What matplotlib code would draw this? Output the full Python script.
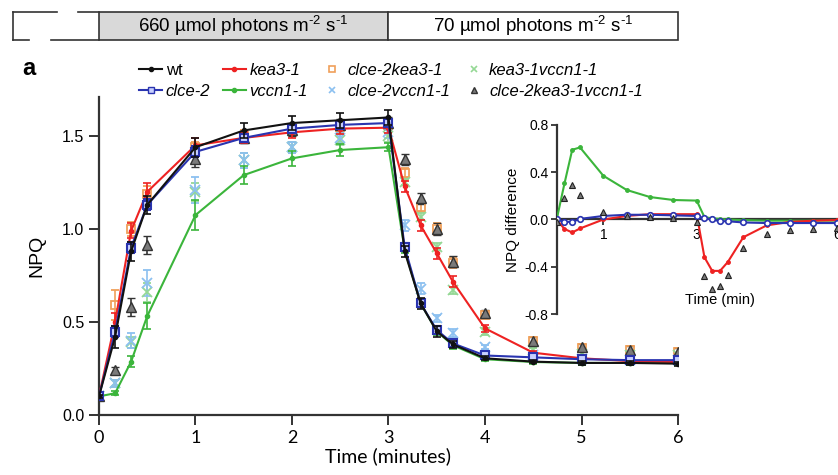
import matplotlib
matplotlib.use('Agg')
import matplotlib.pyplot as plt
from matplotlib.lines import Line2D
from matplotlib.patches import Rectangle
import matplotlib.transforms as mtransforms

plt.rcParams['font.family'] = ['Liberation Sans', 'DejaVu Sans']
plt.rcParams['mathtext.fontset'] = 'custom'
plt.rcParams['mathtext.rm'] = 'Liberation Sans'

# time points (minutes)
time = [0, 0.167, 0.333, 0.5, 1, 1.5, 2, 2.5, 3, 3.167, 3.333, 3.5, 3.667, 4, 4.5, 5, 5.5, 6]

# NPQ, main panel
wt = [0.10, 0.42, 0.88, 1.13, 1.44, 1.53, 1.57, 1.585, 1.60, 0.88, 0.60, 0.45, 0.38, 0.305, 0.287, 0.28, 0.28, 0.276]
wt_err = [0.01, 0.06, 0.05, 0.05, 0.05, 0.04, 0.04, 0.04, 0.04, 0.03, 0.03, 0.03, 0.02, 0.01, 0.01, 0.01, 0.01, 0.01]
kea3 = [0.10, 0.50, 0.99, 1.20, 1.45, 1.49, 1.52, 1.54, 1.545, 1.23, 1.02, 0.87, 0.717, 0.466, 0.335, 0.305, 0.29, 0.285]
kea3_err = [0.01, 0.05, 0.04, 0.05, 0.04, 0.03, 0.03, 0.03, 0.03, 0.03, 0.03, 0.03, 0.03, 0.02, 0.01, 0.01, 0.01, 0.01]
clce2 = [0.10, 0.448, 0.90, 1.13, 1.415, 1.49, 1.54, 1.56, 1.57, 0.905, 0.60, 0.457, 0.385, 0.32, 0.31, 0.30, 0.295, 0.295]
clce2_err = [0.01, 0.03, 0.03, 0.03, 0.03, 0.02, 0.02, 0.02, 0.02, 0.02, 0.02, 0.02, 0.02, 0.01, 0.01, 0.01, 0.01, 0.01]
vccn1 = [0.10, 0.117, 0.287, 0.532, 1.075, 1.29, 1.38, 1.425, 1.44, 0.89, 0.60, 0.45, 0.375, 0.30, 0.285, 0.28, 0.28, 0.28]
vccn1_err = [0.01, 0.01, 0.03, 0.07, 0.08, 0.05, 0.04, 0.03, 0.02, 0.02, 0.02, 0.02, 0.02, 0.01, 0.01, 0.01, 0.01, 0.01]
clce2kea3 = [0.10, 0.59, 1.00, 1.19, 1.44, 1.50, 1.53, 1.55, 1.56, 1.30, 1.12, 1.00, 0.82, 0.54, 0.40, 0.36, 0.35, 0.34]
clce2kea3_err = [0.01, 0.08, 0.04, 0.04, 0.03, 0.03, 0.03, 0.03, 0.03, 0.03, 0.03, 0.03, 0.03, 0.02, 0.02, 0.02, 0.02, 0.02]
kea3vccn1 = [0.10, 0.17, 0.39, 0.66, 1.20, 1.37, 1.44, 1.48, 1.50, 1.255, 1.066, 0.905, 0.67, 0.448, 0.35, 0.33, 0.32, 0.32]
kea3vccn1_err = [0.01, 0.02, 0.03, 0.05, 0.05, 0.04, 0.03, 0.03, 0.03, 0.02, 0.02, 0.02, 0.02, 0.02, 0.01, 0.01, 0.01, 0.01]
clce2vccn1 = [0.10, 0.17, 0.40, 0.71, 1.21, 1.37, 1.44, 1.49, 1.52, 1.02, 0.68, 0.52, 0.44, 0.367, 0.32, 0.30, 0.295, 0.295]
clce2vccn1_err = [0.01, 0.02, 0.04, 0.07, 0.07, 0.04, 0.03, 0.03, 0.03, 0.03, 0.03, 0.02, 0.02, 0.01, 0.01, 0.01, 0.01, 0.01]
triple = [0.10, 0.24, 0.58, 0.915, 1.375, 1.49, 1.53, 1.56, 1.57, 1.375, 1.165, 1.00, 0.825, 0.547, 0.40, 0.364, 0.35, 0.34]
triple_err = [0.01, 0.02, 0.05, 0.05, 0.04, 0.03, 0.03, 0.03, 0.03, 0.03, 0.03, 0.03, 0.03, 0.02, 0.02, 0.02, 0.02, 0.02]

# NPQ difference, inset
d_vccn1 = [0, 0.305, 0.59, 0.61, 0.37, 0.25, 0.19, 0.165, 0.16, 0.02, 0.01, 0.005, 0.0, -0.005, -0.01, -0.01, -0.01, -0.01]
d_kea3 = [0, -0.08, -0.11, -0.076, 0.0, 0.03, 0.045, 0.045, 0.045, -0.32, -0.435, -0.435, -0.36, -0.15, -0.05, -0.02, -0.01, -0.005]
d_clce2 = [0, -0.02, -0.02, 0.005, 0.03, 0.04, 0.04, 0.035, 0.03, 0.01, 0.0, -0.015, -0.015, -0.025, -0.03, -0.03, -0.03, -0.03]
d_triple = [-0.02, 0.18, 0.29, 0.21, 0.06, 0.03, 0.017, 0.01, -0.02, -0.48, -0.585, -0.565, -0.47, -0.24, -0.125, -0.09, -0.08, -0.07]

c_wt = '#111111'
c_red = '#ee2222'
c_blue = '#2a34b0'
c_green = '#3bb53b'
c_orange = '#f0a05a'
c_lgreen = '#95d895'
c_lblue = '#8cc0f0'
c_tri = '#7a7a7a'

fig = plt.figure(figsize=(8.38, 4.75), dpi=100)
ax = fig.add_axes([0.1181, 0.1263, 0.6910, 0.6695])

ek = dict(capsize=3, elinewidth=1.2, capthick=1.2)
# scatter-only genotypes
ax.errorbar(time, clce2kea3, yerr=clce2kea3_err, fmt='s', ms=6, mfc='none', mec=c_orange, mew=1.3,
            ecolor=c_orange, zorder=2, **ek)
ax.errorbar(time, kea3vccn1, yerr=kea3vccn1_err, fmt='x', ms=7, mec=c_lgreen, mew=1.3,
            ecolor=c_lgreen, zorder=2, **ek)
ax.errorbar(time, clce2vccn1, yerr=clce2vccn1_err, fmt='x', ms=7, mec=c_lblue, mew=1.3,
            ecolor=c_lblue, zorder=2, **ek)
ax.errorbar(time, triple, yerr=triple_err, fmt='^', ms=7, mfc=c_tri, mec='#333333', mew=1.0,
            ecolor='#333333', zorder=2, **ek)
# line genotypes
ax.errorbar(time, vccn1, yerr=vccn1_err, fmt='-o', ms=3, color=c_green, lw=1.5, zorder=3, **ek)
ax.errorbar(time, kea3, yerr=kea3_err, fmt='-o', ms=3, color=c_red, lw=1.5, zorder=3, **ek)
ax.errorbar(time, clce2, yerr=clce2_err, fmt='-s', ms=5.5, mfc='#c8d0ff', mec=c_blue, mew=1.5,
            color=c_blue, lw=1.5, zorder=4, **ek)
ax.errorbar(time, wt, yerr=wt_err, fmt='-o', ms=3, color=c_wt, lw=1.5, zorder=5, **ek)

ax.set_xlim(0, 6)
ax.set_ylim(0, 1.71)
ax.set_xticks(range(7))
ax.set_yticks([0, 0.5, 1.0, 1.5])
ax.set_yticklabels(['0.0', '0.5', '1.0', '1.5'])
for s in ['top', 'right']:
    ax.spines[s].set_visible(False)
for s in ['left', 'bottom']:
    ax.spines[s].set_linewidth(1.6)
    ax.spines[s].set_color('#333333')
ax.tick_params(direction='out', length=7, width=1.4, color='#333333', labelsize=11.5)
for lbl in ax.get_xticklabels():
    lbl.set_family(['Lato', 'DejaVu Sans'])
    lbl.set_fontsize(13)
ax.set_xlabel('Time (minutes)', family=['Lato', 'DejaVu Sans'], fontsize=14, labelpad=1)
ax.set_ylabel('NPQ', fontsize=14, labelpad=12)

# light regime bar above the plot
tr = mtransforms.blended_transform_factory(ax.transData, fig.transFigure)
y0, h = 0.916, 0.059
ax.add_patch(Rectangle((0, y0), 3, h, transform=tr, facecolor='#d9d9d9', edgecolor='#333333',
                       lw=1.2, clip_on=False))
ax.add_patch(Rectangle((3, y0), 3, h, transform=tr, facecolor='white', edgecolor='#333333',
                       lw=1.2, clip_on=False))
unit = r' µmol photons m$^{\text{-2}}$ s$^{\text{-1}}$'
ax.text(1.5, y0 + h / 2, '660' + unit, transform=tr, ha='center', va='center', fontsize=13.5)
ax.text(4.5, y0 + h / 2, '70' + unit, transform=tr, ha='center', va='center', fontsize=13.5)
# dark period bracket (broken box)
for xs, ys in [([-0.89, -0.89], [y0, y0 + h]), ([-0.89, -0.43], [y0 + h, y0 + h]),
               ([-0.22, 0], [y0 + h, y0 + h]), ([-0.89, -0.72], [y0, y0]), ([-0.5, 0], [y0, y0])]:
    ax.add_line(Line2D(xs, ys, transform=tr, color='#333333', lw=1.2, clip_on=False))

fig.text(0.026, 0.855, 'a', fontsize=17, fontweight='bold', va='center')

# legend
handles = [
    Line2D([], [], color=c_wt, marker='o', ms=3, lw=1.5),
    Line2D([], [], color=c_blue, marker='s', ms=4.5, mfc='#c8d0ff', mec=c_blue, lw=1.5),
    Line2D([], [], color=c_red, marker='o', ms=3, lw=1.5),
    Line2D([], [], color=c_green, marker='o', ms=3, lw=1.5),
    Line2D([], [], ls='none', marker='s', ms=5, mfc='none', mec=c_orange, mew=1.2),
    Line2D([], [], ls='none', marker='x', ms=5, mec=c_lblue, mew=1.2),
    Line2D([], [], ls='none', marker='x', ms=5, mec=c_lgreen, mew=1.2),
    Line2D([], [], ls='none', marker='^', ms=5, mfc=c_tri, mec='#333333'),
]
labels = ['wt', 'clce-2', 'kea3-1', 'vccn1-1', 'clce-2kea3-1', 'clce-2vccn1-1', 'kea3-1vccn1-1',
          'clce-2kea3-1vccn1-1']
leg = fig.legend(handles, labels, ncol=4, loc='upper left', bbox_to_anchor=(0.166, 0.868),
                 frameon=False, fontsize=12, handlelength=1.4, handletextpad=0.2,
                 columnspacing=0.75, labelspacing=0.35, borderpad=0, borderaxespad=0)
for t in leg.get_texts()[1:]:
    t.set_style('italic')

# inset: NPQ difference
axi = fig.add_axes([0.6643, 0.3389, 0.3341, 0.398])
axi.plot(time, d_vccn1, '-o', color=c_green, ms=2.5, lw=1.5, zorder=3)
axi.plot(time, d_kea3, '-o', color=c_red, ms=2.5, lw=1.5, zorder=3)
axi.plot(time, d_clce2, '-o', color=c_blue, ms=4, mfc='white', mew=1.2, lw=1.5, zorder=4)
axi.plot(time, d_triple, ls='none', marker='^', ms=4.5, mfc=c_tri, mec='#222222', mew=0.8, zorder=5)
axi.set_xlim(0, 6)
axi.set_ylim(-0.8, 0.8)
axi.set_yticks([-0.8, -0.4, 0.0, 0.4, 0.8])
axi.set_yticklabels(['-0.8', '-0.4', '0.0', '0.4', '0.8'])
axi.set_xticks([1, 3, 6])
axi.patch.set_alpha(0)
for s in ['top', 'right']:
    axi.spines[s].set_visible(False)
axi.spines['bottom'].set_position(('data', 0))
for s in ['left', 'bottom']:
    axi.spines[s].set_linewidth(1.6)
    axi.spines[s].set_color('#333333')
axi.tick_params(direction='out', length=4, width=1.3, color='#333333', labelsize=10, pad=2)
axi.set_ylabel('NPQ difference', fontsize=11, labelpad=3)
axi.text(3.5, -0.68, 'Time (min)', ha='center', va='center', fontsize=10.5)

fig.savefig('out.png', dpi=100)
